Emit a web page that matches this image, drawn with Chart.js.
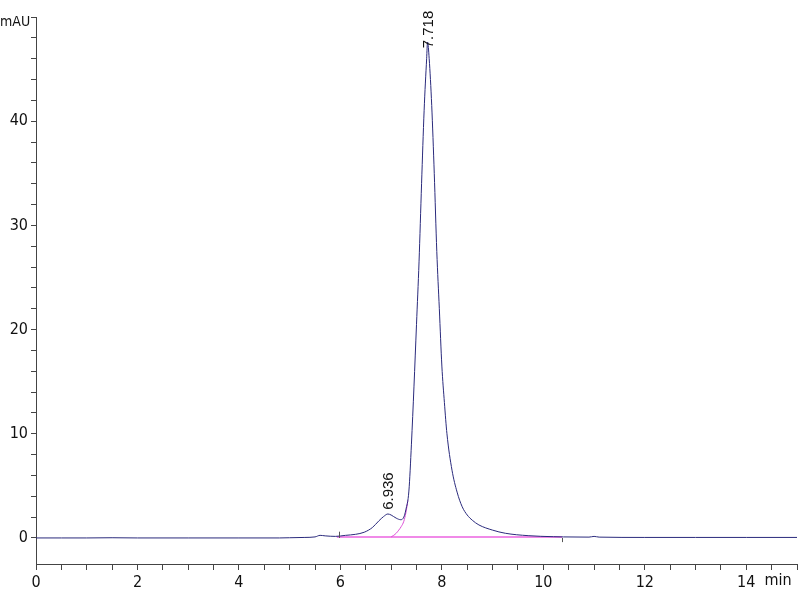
<!DOCTYPE html>
<html>
<head>
<meta charset="utf-8">
<script src="https://cdn.jsdelivr.net/npm/chart.js@4/dist/chart.umd.min.js"></script>
<style>
  body { margin: 0; background: #fff; }
  canvas { display: block; }
</style>
</head>
<body>
<canvas id="chrom" width="800" height="600"></canvas>
<script>
// Signal trace (min, mAU)
var times = [0, 0.5, 1.0, 1.5, 2, 3, 4, 4.8, 5.0, 5.3, 5.5, 5.6, 5.7, 5.9, 6.1, 6.3, 6.47, 6.63, 6.76, 6.85, 6.936, 7.0, 7.1, 7.19, 7.25, 7.29, 7.35, 7.40, 7.45, 7.50, 7.55, 7.60, 7.65, 7.70, 7.718, 7.75, 7.80, 7.85, 7.90, 7.95, 8.00, 8.05, 8.10, 8.20, 8.30, 8.40, 8.50, 8.60, 8.73, 9.00, 9.25, 9.70, 10.2, 10.4, 10.9, 11.0, 11.1, 12, 13, 14, 15];
var signal = [0, 0, 0, 0.02, 0, 0, 0, 0, 0.02, 0.05, 0.1, 0.25, 0.2, 0.15, 0.25, 0.35, 0.55, 1.0, 1.65, 2.05, 2.3, 2.2, 1.9, 1.75, 2.0, 2.7, 4.5, 9.0, 14.5, 20.5, 26.5, 34, 41, 46, 47.6, 46, 41.5, 35, 27.5, 22, 16.5, 13, 10, 6.5, 4.4, 3.0, 2.2, 1.7, 1.25, 0.75, 0.45, 0.22, 0.12, 0.1, 0.08, 0.15, 0.08, 0.05, 0.05, 0.05, 0.05];

// Fitted main peak (pink), visible part where it leaves the trace
var fitTimes = [7.0, 7.05, 7.1, 7.15, 7.2, 7.25, 7.29, 7.33];
var fitSignal = [0.1, 0.25, 0.45, 0.75, 1.1, 1.6, 2.4, 3.6];

// Integration baseline
var baseTimes = [5.93, 10.37];
var baseSignal = [0.1, 0.1];

// Peak annotations
var peakTimes = [6.936, 7.718];
var peakLabels = ['6.936', '7.718'];
var labelY = [2.7, 47.0];

// Integration event marks
var eventTimes = [5.98, 10.37];
var eventFrom = [0, -0.4];
var eventTo = [0.6, 0];

function toPoints(xs, ys) {
    var pts = [];
    for (let i = 0; i < xs.length; i++) {
        pts.push({ x: xs[i], y: ys[i] });
    }
    return pts;
}

var fontFamily = "'Liberation Sans Narrow', 'DejaVu Sans Condensed', 'Liberation Sans', Arial";
var tickFont = { family: fontFamily, size: 16 };

// Peak labels, event marks, axis units
var annotate = {
    id: 'annotate',
    afterDatasetsDraw(chart) {
        var ctx = chart.ctx;
        var xs = chart.scales.x, ys = chart.scales.y;
        ctx.save();
        ctx.strokeStyle = '#555';
        ctx.lineWidth = 1;
        for (let i = 0; i < eventTimes.length; i++) {
            var px = Math.round(xs.getPixelForValue(eventTimes[i])) + 0.5;
            ctx.beginPath();
            ctx.moveTo(px, ys.getPixelForValue(eventFrom[i]));
            ctx.lineTo(px, ys.getPixelForValue(eventTo[i]));
            ctx.stroke();
        }
        ctx.fillStyle = '#111';
        ctx.font = "15px 'Liberation Sans', Arial";
        ctx.textAlign = 'left';
        ctx.textBaseline = 'middle';
        for (let i = 0; i < peakTimes.length; i++) {
            ctx.save();
            ctx.translate(xs.getPixelForValue(peakTimes[i]) + 1, ys.getPixelForValue(labelY[i]));
            ctx.rotate(-Math.PI / 2);
            ctx.fillText(peakLabels[i], 0, 0);
            ctx.restore();
        }
        ctx.font = '16px ' + fontFamily;
        ctx.textAlign = 'center';
        ctx.textBaseline = 'top';
        ctx.fillText('min', chart.chartArea.right - 19, chart.chartArea.bottom + 9);
        ctx.font = '14px ' + fontFamily;
        ctx.textAlign = 'left';
        ctx.textBaseline = 'middle';
        ctx.fillText('mAU', 0, chart.chartArea.top + 5);
        ctx.restore();
    }
};

var ctx = document.getElementById('chrom').getContext('2d');

var config = {
    type: 'line',
    data: {
        datasets: [{
            data: toPoints(times, signal),
            borderColor: '#2a2a7c',
            borderWidth: 1,
            pointRadius: 0,
            cubicInterpolationMode: 'monotone',
            order: 1
        }, {
            data: toPoints(fitTimes, fitSignal),
            borderColor: '#dc4fd6',
            borderWidth: 1,
            pointRadius: 0,
            cubicInterpolationMode: 'monotone',
            order: 2
        }, {
            data: toPoints(baseTimes, baseSignal),
            borderColor: '#f08ae8',
            borderWidth: 2,
            pointRadius: 0,
            order: 3
        }]
    },
    options: {
        responsive: false,
        animation: false,
        layout: { padding: { top: 17, right: 1, left: 0, bottom: 0 } },
        plugins: {
            legend: { display: false },
            tooltip: { enabled: false }
        },
        scales: {
            x: {
                type: 'linear',
                min: 0,
                max: 15,
                border: { color: '#444', width: 1 },
                grid: { drawOnChartArea: false, drawTicks: true, tickLength: 6, color: '#444' },
                ticks: {
                    stepSize: 0.5,
                    autoSkip: false,
                    maxRotation: 0,
                    color: '#111',
                    font: tickFont,
                    padding: 3,
                    callback: function(v) {
                        return (v % 2 === 0 && v < 15) ? String(v) : '';
                    }
                },
                afterFit: function(scale) { scale.height = 36; }
            },
            y: {
                type: 'linear',
                min: -2.5,
                max: 50,
                border: { color: '#444', width: 1 },
                grid: { drawOnChartArea: false, drawTicks: true, tickLength: 5, color: '#444' },
                ticks: {
                    stepSize: 2,
                    autoSkip: false,
                    color: '#111',
                    font: tickFont,
                    padding: 3,
                    callback: function(v) {
                        return (v % 10 === 0 && v < 50) ? String(v) : '';
                    }
                },
                afterBuildTicks: function(scale) {
                    scale.ticks = scale.ticks.filter(function(t) { return t.value % 2 === 0; });
                },
                afterFit: function(scale) { scale.width = 36; }
            }
        }
    },
    plugins: [annotate]
};

var chromChart = new Chart(ctx, config);
</script>
</body>
</html>
